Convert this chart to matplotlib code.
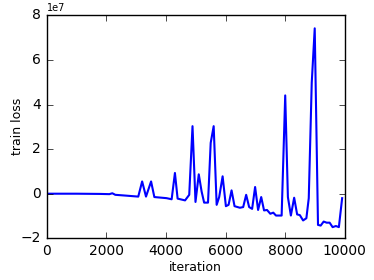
import matplotlib
matplotlib.use('Agg')
import matplotlib.pyplot as plt

plt.style.use('classic')

# training loss (values in units of 1e7)
iterations = [0, 1000, 1800, 2100, 2200, 2300, 2600, 3070, 3200, 3330, 3500, 3610,
              4020, 4190, 4300, 4390, 4640, 4780, 4890, 4990, 5100, 5195, 5280,
              5410, 5500, 5600, 5700, 5785, 5900, 6010, 6100, 6200, 6300, 6480,
              6590, 6690, 6790, 6890, 6990, 7090, 7195, 7290, 7390, 7500, 7600,
              7690, 7880, 8000, 8090, 8190, 8300, 8400, 8490, 8600, 8710, 8790,
              8890, 8990, 9100, 9190, 9290, 9390, 9490, 9590, 9700, 9800, 9910]
loss_e7 = [0.0, 0.0, -0.01, -0.02, 0.02, -0.05, -0.08, -0.13, 0.55, -0.13, 0.55, -0.15,
           -0.2, -0.25, 0.93, -0.22, -0.3, -0.05, 3.03, -0.37, 0.87, 0.1, -0.4,
           -0.4, 2.28, 3.03, -0.5, -0.15, 0.78, -0.56, -0.5, 0.15, -0.56, -0.63,
           -0.6, -0.05, -0.6, -0.68, 0.3, -0.73, -0.15, -0.75, -0.73, -0.9, -0.85,
           -0.98, -0.98, 4.41, -0.15, -0.98, -0.18, -0.93, -0.96, -1.2, -1.1, -0.2,
           4.98, 7.42, -1.4, -1.43, -1.25, -1.3, -1.3, -1.5, -1.45, -1.5, -0.2]

loss = [v * 1e7 for v in loss_e7]

fig = plt.figure(figsize=(3.74, 2.8), dpi=100)
ax = fig.add_axes([0.125, 0.149, 0.797, 0.796])
ax.plot(iterations, loss, color='#0000ff', linewidth=1.5)

ax.set_xlim(0, 10000)
ax.set_ylim(-2e7, 8e7)
ax.set_xlabel('iteration', fontsize=9, labelpad=2)
ax.set_ylabel('train loss', fontsize=9)
ax.yaxis.set_label_coords(-0.075, 0.5)
ax.tick_params(labelsize=10)
ax.yaxis.get_offset_text().set_fontsize(7)

fig.savefig('out.png', dpi=100)
